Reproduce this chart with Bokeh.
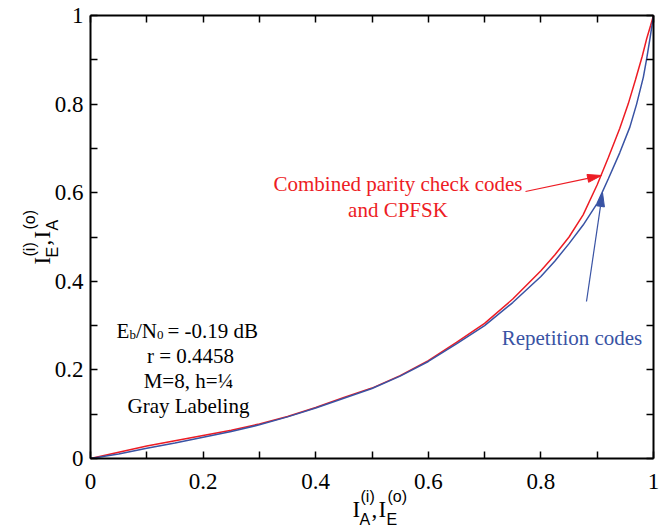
import numpy as np
from bokeh.plotting import figure
from bokeh.models import Range1d, FixedTicker, NumeralTickFormatter, Label, LinearAxis
from bokeh.embed import file_html
from bokeh.resources import INLINE

# EXIT transfer curves (x: a-priori information, y: extrinsic information)
x_cpc = [0.0, 0.05, 0.1, 0.15, 0.2, 0.25, 0.3, 0.35, 0.4, 0.45, 0.5, 0.55, 0.6,
         0.65, 0.7, 0.75, 0.8, 0.825, 0.85, 0.875, 0.9, 0.92, 0.94, 0.955, 0.968,
         0.98, 0.988, 0.995, 1.0]
y_cpc = [0.0, 0.014, 0.028, 0.040, 0.052, 0.064, 0.078, 0.095, 0.115, 0.138, 0.159,
         0.187, 0.221, 0.262, 0.305, 0.360, 0.424, 0.460, 0.500, 0.550, 0.618, 0.680,
         0.745, 0.800, 0.855, 0.908, 0.948, 0.978, 1.0]

x_rep = [0.0, 0.05, 0.1, 0.15, 0.2, 0.25, 0.3, 0.35, 0.4, 0.45, 0.5, 0.55, 0.6,
         0.65, 0.7, 0.75, 0.8, 0.825, 0.85, 0.875, 0.9, 0.92, 0.94, 0.958, 0.97,
         0.982, 0.988, 0.994, 1.0]
y_rep = [0.0, 0.010, 0.023, 0.035, 0.048, 0.061, 0.076, 0.094, 0.114, 0.136, 0.158,
         0.186, 0.219, 0.259, 0.300, 0.352, 0.411, 0.446, 0.485, 0.527, 0.576, 0.632,
         0.690, 0.748, 0.800, 0.861, 0.903, 0.950, 1.0]

major_ticks = [0.0, 0.2, 0.4, 0.6, 0.8, 1.0]
minor_ticks = [0.1, 0.3, 0.5, 0.7, 0.9]

RED = "#ed1c24"
BLUE = "#3953a4"
SERIF = "Liberation Serif"
SANS = "Liberation Sans"

# canvas and the unit box [0,1]x[0,1] inside it (pixels)
W, H = 659, 527
LEFT, RIGHT, TOP, BOTTOM = 90, 6, 15, 69
FW = W - LEFT - RIGHT
FH = H - TOP - BOTTOM

# the frame spans the whole canvas; axes sit at fixed data locations
p = figure(width=W, height=H,
           x_range=Range1d(-LEFT / FW, (W - LEFT) / FW),
           y_range=Range1d(-BOTTOM / FH, (H - BOTTOM) / FH),
           output_backend="svg", toolbar_location=None,
           x_axis_location=None, y_axis_location=None,
           min_border_left=0, min_border_right=0,
           min_border_top=0, min_border_bottom=0)
p.xgrid.visible = False
p.ygrid.visible = False
p.outline_line_color = None
p.background_fill_color = "white"
p.border_fill_color = "white"

ax_bottom = LinearAxis(fixed_location=0.0)
ax_top = LinearAxis(fixed_location=1.0)
ax_left = LinearAxis(fixed_location=0.0)
ax_right = LinearAxis(fixed_location=1.0)
p.add_layout(ax_bottom, "below")
p.add_layout(ax_top, "above")
p.add_layout(ax_left, "left")
p.add_layout(ax_right, "right")

for ax in (ax_bottom, ax_top, ax_left, ax_right):
    ax.bounds = (0.0, 1.0)
    ax.ticker = FixedTicker(ticks=major_ticks, minor_ticks=minor_ticks)
    ax.formatter = NumeralTickFormatter(format="0.[0]")
    ax.axis_line_color = "black"
    ax.axis_line_width = 2
    ax.major_tick_in = 7
    ax.major_tick_out = 0
    ax.minor_tick_in = 7
    ax.minor_tick_out = 0
    ax.major_tick_line_width = 1.5
    ax.minor_tick_line_width = 1.5
    ax.major_tick_line_color = "black"
    ax.minor_tick_line_color = "black"
    ax.major_label_text_font = SERIF
    ax.major_label_text_font_size = "23px"
    ax.major_label_text_color = "black"

for ax in (ax_top, ax_right):
    ax.major_label_text_color = None

ax_bottom.major_label_standoff = 15
ax_left.major_label_standoff = 7


def to_data(x, y):
    return (x - LEFT) / FW, (TOP + FH - y) / FH


def label(text, x, y, size, color="black", font=SERIF, align="left", angle=0.0):
    xd, yd = to_data(x, y)
    p.add_layout(Label(x=xd, y=yd, text=text, text_font=font,
                       text_font_size=f"{size}px", text_color=color,
                       text_align=align, text_baseline="alphabetic",
                       angle=angle, angle_units="rad"))


# curves
p.line(x_cpc, y_cpc, line_color=RED, line_width=1.5)
p.line(x_rep, y_rep, line_color=BLUE, line_width=1.5)


# annotation arrows (shaft + filled head), positions in pixels
def arrow(start, tip, color, head_len=14, head_w=8):
    sx, sy = start
    tx, ty = tip
    d = np.hypot(tx - sx, ty - sy)
    ux, uy = (tx - sx) / d, (ty - sy) / d
    nx, ny = -uy, ux
    bx, by = tx - head_len * ux, ty - head_len * uy
    s0 = to_data(sx, sy)
    b0 = to_data(bx, by)
    p.line([s0[0], b0[0]], [s0[1], b0[1]], line_color=color, line_width=1.2)
    pts = [(tx, ty), (bx + nx * head_w / 2, by + ny * head_w / 2),
           (bx - nx * head_w / 2, by - ny * head_w / 2)]
    dp = [to_data(a, b) for a, b in pts]
    p.patch([q[0] for q in dp], [q[1] for q in dp], fill_color=color,
            line_color=color, line_width=1)


arrow((525, 191), (601, 175), RED)
arrow((586, 301), (602, 192), BLUE)

# curve captions
label("Combined parity check codes", 397.5, 183, 21, color=RED, align="center")
label("and CPFSK", 397.5, 209, 21, color=RED, align="center")
label("Repetition codes", 571.5, 337, 21, color=BLUE, align="center")

# parameter block
label("E", 116, 330, 21)
label("b", 129, 334, 13)
label("/N", 135.5, 330, 21)
label("0", 156.5, 334, 13)
label("= -0.19 dB", 167, 330, 21)
label("r = 0.4458", 190, 355, 21, align="center")
label("M=8, h=\u00bc", 188, 380, 21, align="center")
label("Gray Labeling", 188, 405, 21, align="center")

# x-axis title: I_A^(i), I_E^(o)
label("I", 352, 509, 23)
label("(i)", 360, 496, 16, font=SANS)
label("A", 359, 519, 16, font=SANS)
label(",", 371, 509, 23)
label("I", 378, 509, 23)
label("(o)", 387, 496, 16, font=SANS)
label("E", 386, 519, 16, font=SANS)

# y-axis title (rotated): I_E^(i), I_A^(o)
ROT = np.pi / 2
label("I", 42, 264, 23, angle=ROT)
label("(i)", 29, 256, 16, font=SANS, angle=ROT)
label("E", 52, 257, 16, font=SANS, angle=ROT)
label(",", 42, 245, 23, angle=ROT)
label("I", 42, 238, 23, angle=ROT)
label("(o)", 29, 229, 16, font=SANS, angle=ROT)
label("A", 52, 230, 16, font=SANS, angle=ROT)

open("out.html", "w").write(file_html(p, INLINE))
